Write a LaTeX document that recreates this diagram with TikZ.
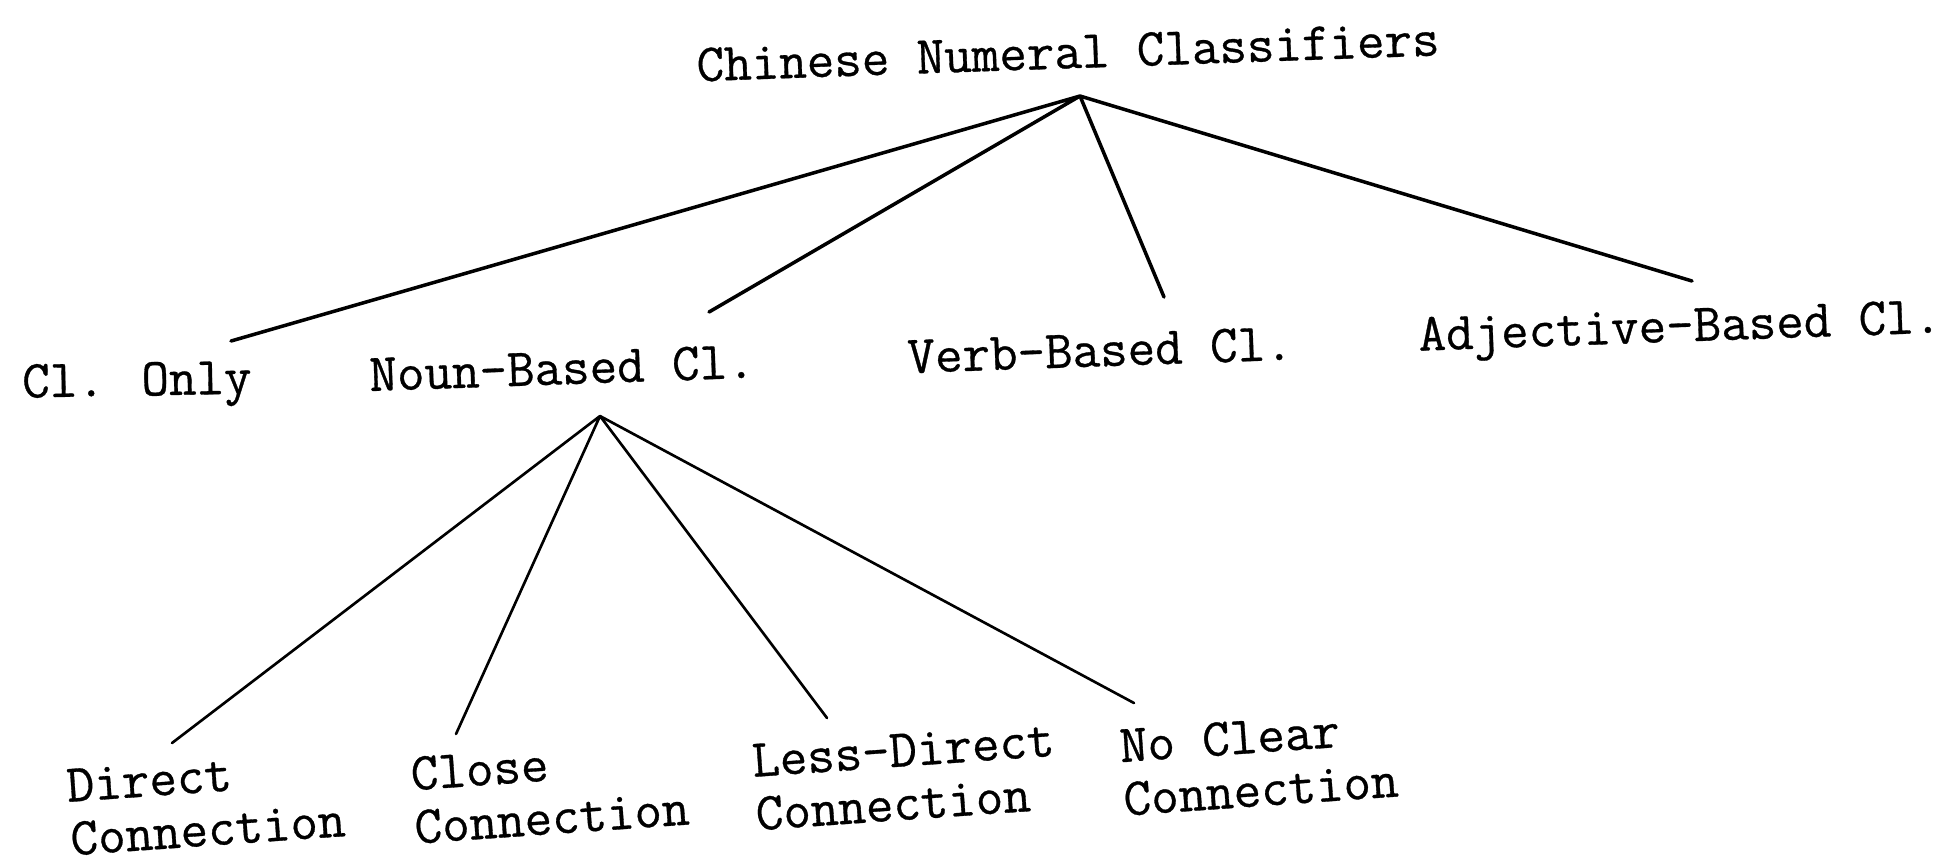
\documentclass[tikz,border=0pt]{standalone}
\usepackage{fontspec}
\newfontfamily\typewriter[FakeBold=0.6]{Latin Modern Mono}
\tikzset{
	lbl/.style={font=\typewriter\fontsize{15.2}{15.2}\selectfont, inner sep=0pt},
	branch/.style={line width=1pt, line cap=round},
	twig/.style={line width=0.75pt, line cap=round}
}
\begin{document}
\begin{tikzpicture}[x=0.01cm,y=-0.01cm]
	\useasboundingbox (0,0) rectangle (1958,856);
	\node[lbl,rotate=2] (root) at (1068,52) {Chinese Numeral Classifiers};
	\coordinate (top) at (1080,96);
	\node[lbl,rotate=1] (only) at (137,385) {Cl. Only};
	\node[lbl,rotate=2] (noun) at (562,368) {Noun-Based Cl.};
	\node[lbl,rotate=2] (verb) at (1100,350) {Verb-Based Cl.};
	\node[lbl,rotate=2] (adj) at (1680,331) {Adjective-Based Cl.};
	\coordinate (e1) at (231,341);
	\coordinate (e2) at (709,312);
	\coordinate (e3) at (1164,297);
	\coordinate (e4) at (1692,281);
	\draw[branch] (top) -- (e1) (top) -- (e2) (top) -- (e3) (top) -- (e4);
	% second level under the noun branch
	\coordinate (mid) at (600,416);
	\node[lbl,align=left,rotate=4] (direct) at (206,803) {Direct\\Connection};
	\node[lbl,align=left,rotate=4] (close) at (550,791) {Close\\Connection};
	\node[lbl,align=left,rotate=4] (less) at (905,777) {Less-Direct\\Connection};
	\node[lbl,align=left,rotate=4] (none) at (1259,763) {No Clear\\Connection};
	\coordinate (f1) at (172,743);
	\coordinate (f2) at (456,734);
	\coordinate (f3) at (827,718);
	\coordinate (f4) at (1134,703);
	\draw[twig] (mid) -- (f1) (mid) -- (f2) (mid) -- (f3) (mid) -- (f4);
\end{tikzpicture}
\end{document}
